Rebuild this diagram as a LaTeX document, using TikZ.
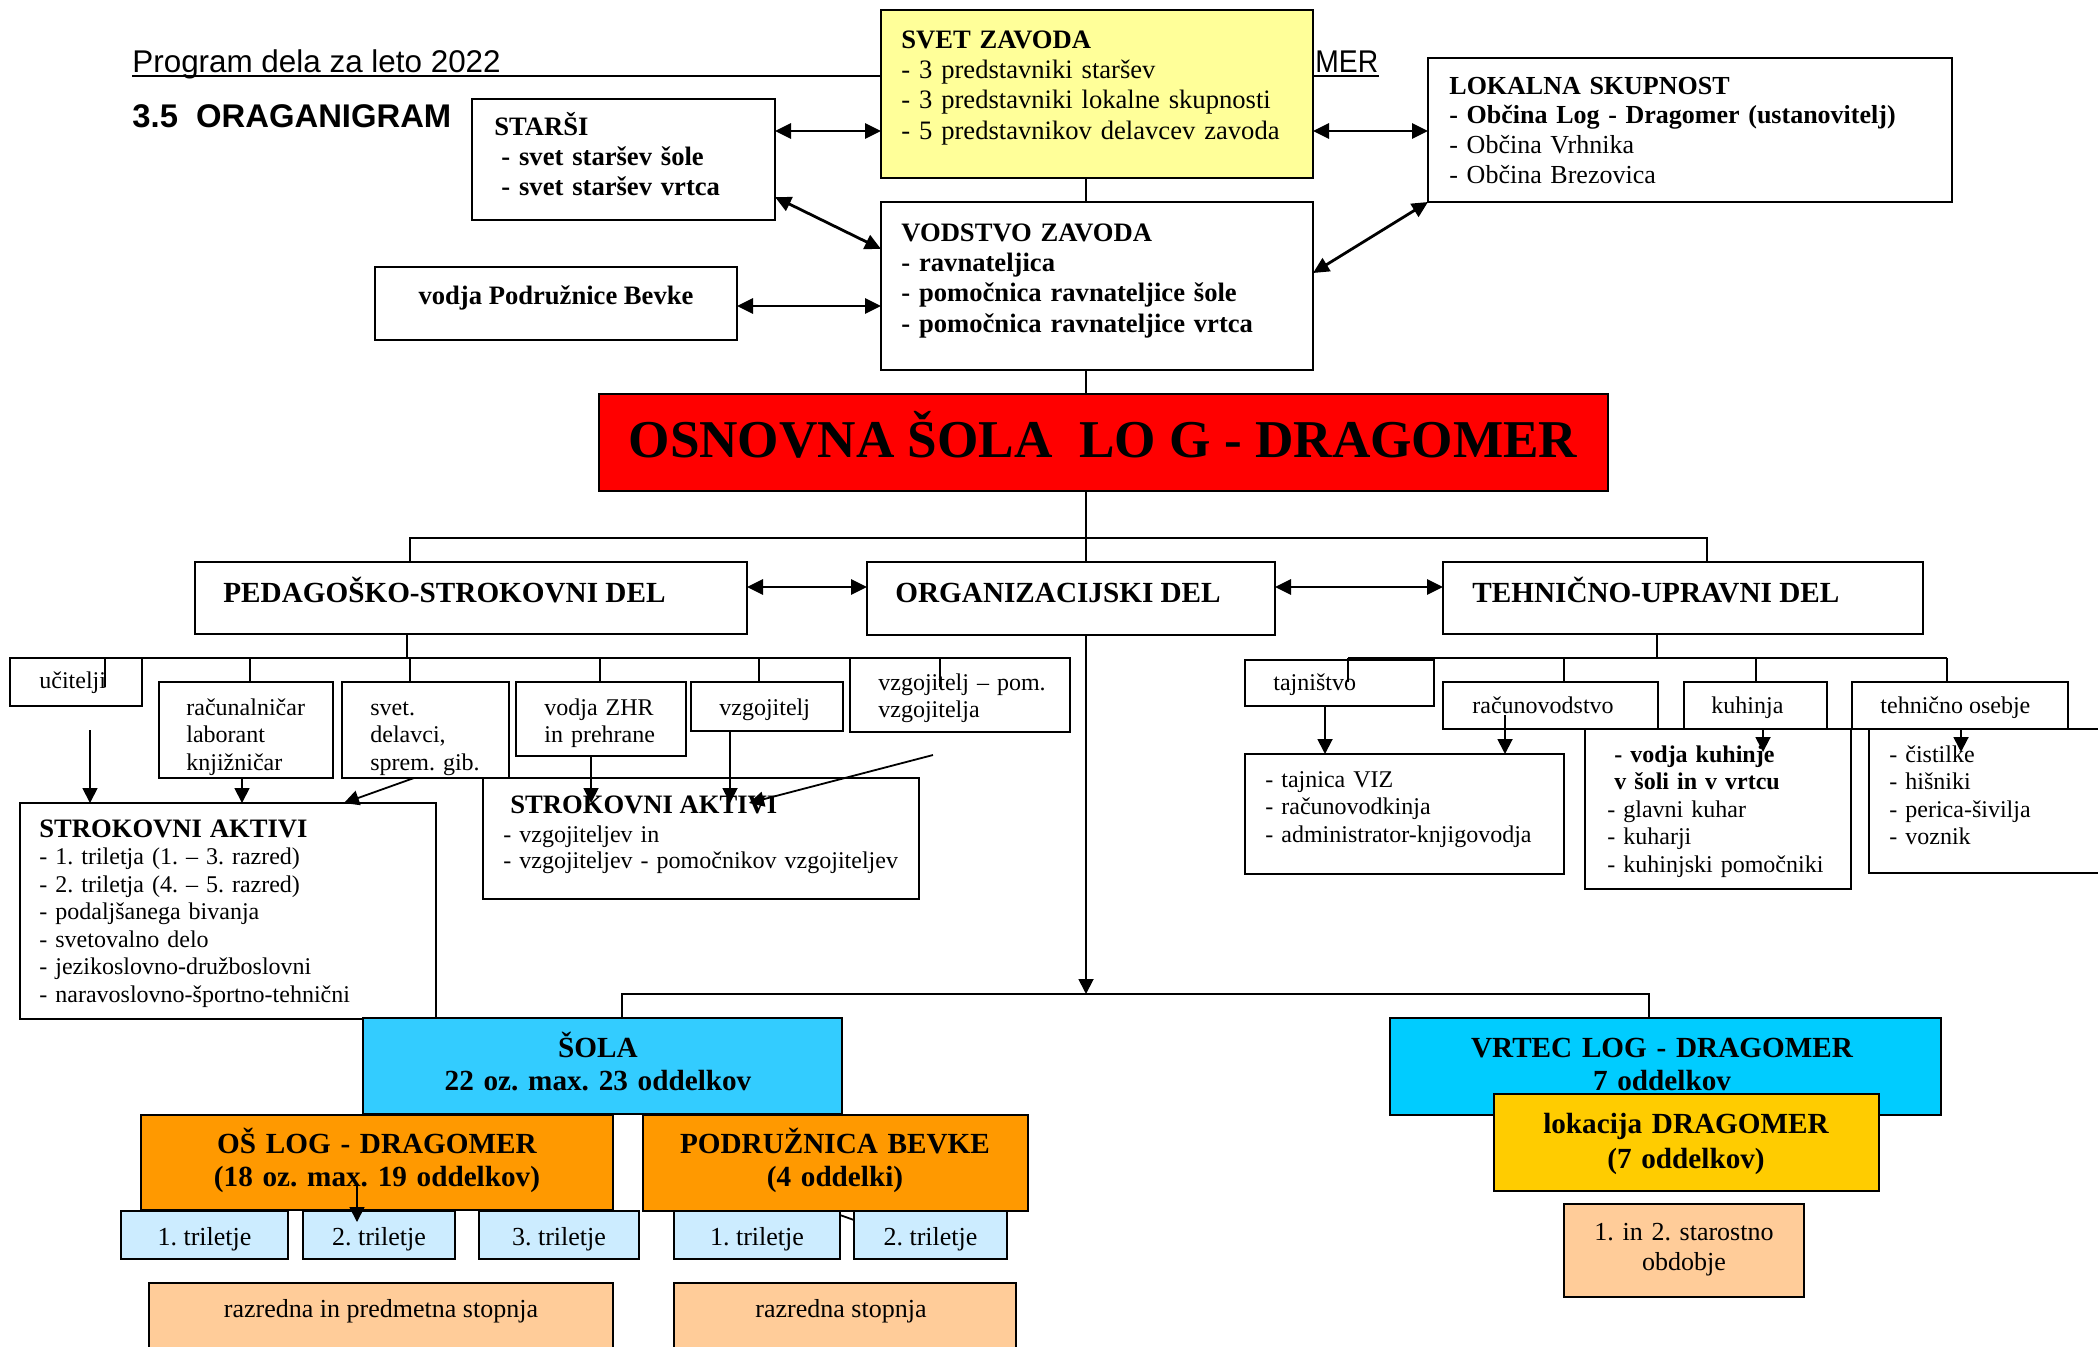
\documentclass[tikz,border=0pt]{standalone}
\usepackage{fontspec}
\setmainfont{Liberation Serif}
\newfontfamily\hdrfont{Liberation Sans}
\usetikzlibrary{arrows.meta,fit}
\frenchspacing
\definecolor{svetY}{HTML}{FFFF99}
\definecolor{redB}{HTML}{FF0000}
\definecolor{solaC}{HTML}{33CCFF}
\definecolor{vrtecC}{HTML}{00CCFF}
\definecolor{orgO}{HTML}{FF9900}
\definecolor{lightB}{HTML}{CCECFF}
\definecolor{peachC}{HTML}{FFCC99}
\definecolor{lokY}{HTML}{FFCC00}
\newcommand\fsm{\fontsize{12}{13.75}\selectfont}
\newcommand\fmd{\fontsize{13.3}{15.2}\selectfont}
\newcommand\flg{\fontsize{14.6}{16.75}\selectfont}
\newcommand\ftr{\fontsize{13}{15}\selectfont}
\newcommand\mybox[4][]{\node[bx,#1,fit={#3 #4}] (#2) {};}
\tikzset{
  bx/.style={draw=black, line width=1.1pt, inner sep=0pt, outer sep=0pt},
  ln/.style={line width=0.8pt},
  dbl/.style={line width=1.4pt, {Triangle[length=8pt,width=7.5pt]}-{Triangle[length=8pt,width=7.5pt]}},
  arr/.style={line width=0.9pt, -{Triangle[length=7.5pt,width=7.5pt]}},
  tl/.style={anchor=base west, inner sep=0pt, align=left, text width=#1},
  tl/.default=240pt,
  tc/.style={anchor=base, inner sep=0pt, align=center, text width=#1},
  tc/.default=230pt,
  tone/.style={anchor=base west, inner sep=0pt},
  tmid/.style={anchor=base, inner sep=0pt},
}
\begin{document}
\begin{tikzpicture}[x=0.5pt,y=-0.5pt]
\useasboundingbox (0,0) rectangle (2098,1346);
% header
\node[tone, font=\hdrfont\fontsize{15.7}{19}\selectfont] (hdr) at (132,72) {Program dela za leto 2022};
\node[tone, font=\hdrfont\fontsize{15.7}{19}\selectfont] (hdrm) at (1315,72) {\scalebox{0.9}[1]{MER}};
\draw[line width=0.9pt] ([yshift=-2pt]hdr.base west) -- ([yshift=-2pt]hdrm.base east);
\node[tone, font=\hdrfont\bfseries\fontsize{16.4}{19}\selectfont] (ttl) at (132,127) {3.5\ \ ORAGANIGRAM};

% top boxes
\mybox{starsi}{(472,99)}{(775,220)}
\node[tl, font=\fmd\bfseries] (starsit) at (494,135) {STARŠI\\\hspace*{3.5pt}- svet staršev šole\\\hspace*{3.5pt}- svet staršev vrtca};
\mybox[fill=svetY]{svet}{(881,10)}{(1313,178)}
\node[tl, font=\fmd] (svett) at (901,48) {\textbf{SVET ZAVODA}\\- 3 predstavniki staršev\\- 3 predstavniki lokalne skupnosti\\- 5 predstavnikov delavcev zavoda};
\mybox{vodstvo}{(881,202)}{(1313,370)}
\node[tl, font=\fmd\bfseries] (vodstvot) at (901,241) {VODSTVO ZAVODA\\- ravnateljica\\- pomočnica ravnateljice šole\\- pomočnica ravnateljice vrtca};
\mybox{bevke}{(375,267)}{(737,340)}
\node[tmid, font=\fmd\bfseries] (bevket) at (556,304) {vodja Podružnice Bevke};
\mybox{lokalna}{(1428,58)}{(1952,202)}
\node[tl=260pt, font=\fontsize{13}{14.85}\selectfont] (lokalnat) at (1449,94) {\textbf{LOKALNA SKUPNOST}\\\textbf{- Občina Log - Dragomer (ustanovitelj)}\\- Občina Vrhnika\\- Občina Brezovica};

\draw[dbl] (starsi.east |- 0,131) -- (svet.west |- 0,131);
\draw[dbl] (starsi.east |- 0,197) -- (vodstvo.west |- 0,249);
\draw[dbl] (bevke.east |- 0,306) -- (vodstvo.west |- 0,306);
\draw[dbl] (svet.east |- 0,131) -- (lokalna.west |- 0,131);
\draw[dbl] (vodstvo.east |- 0,273) -- (lokalna.south west);

% main
\mybox[fill=redB]{red}{(599,394)}{(1608,491)}
\node[tmid, font=\bfseries\fontsize{26.6}{30}\selectfont] (redt) at (1103,457) {OSNOVNA ŠOLA\ \ LO G - DRAGOMER};
\draw[ln] (svet.south -| 1086,0) -- (vodstvo.north -| 1086,0);
\draw[ln] (vodstvo.south -| 1086,0) -- (red.north -| 1086,0);

\mybox{ped}{(195,562)}{(747,634)}
\node[tone, font=\flg\bfseries] (pedt) at (223,602) {PEDAGOŠKO-STROKOVNI DEL};
\mybox{org}{(867,562)}{(1275,635)}
\node[tone, font=\flg\bfseries] (orgt) at (895,602) {ORGANIZACIJSKI DEL};
\mybox{teh}{(1443,562)}{(1923,634)}
\node[tone, font=\flg\bfseries] (teht) at (1472,602) {TEHNIČNO-UPRAVNI DEL};
\draw[ln] (red.south -| 1086,0) -- (org.north -| 1086,0);
\draw[ln] (ped.north -| 410,0) -- (410,538) -- (1707,538) -- (teh.north -| 1707,0);
\draw[dbl] (ped.east |- 0,587) -- (org.west |- 0,587);
\draw[dbl] (org.east |- 0,587) -- (teh.west |- 0,587);

% left branch
\mybox{uci}{(10,658)}{(142,706)}
\node[tone, font=\fsm] (ucit) at (39,688) {učitelji};
\mybox{rac}{(159,682)}{(333,778)}
\mybox{svd}{(342,682)}{(509,778)}
\mybox{zhr}{(516,682)}{(686,756)}
\node[tl=80pt, font=\fsm] (zhrt) at (544,715) {vodja ZHR\\in prehrane};
\mybox{vzg}{(691,682)}{(843,731)}
\node[tone, font=\fsm] (vzgt) at (719,715) {vzgojitelj};
\mybox{pom}{(850,658)}{(1070,732)}
\node[tl=100pt, font=\fsm] (pomt) at (878,690) {vzgojitelj – pom.\\vzgojitelja};
\begin{scope}
\clip (rac.south west) rectangle (svd.north east);
\node[tl=80pt, font=\fsm] (ract) at (186,715) {računalničar\\laborant\\knjižničar};
\node[tl=80pt, font=\fsm] (svdt) at (370,715) {svet.\\delavci,\\sprem. gib.};
\end{scope}
\coordinate (lb1) at (105,658);
\coordinate (lb2) at (940,658);
\draw[ln] (ped.south -| 407,0) -- (407,658);
\draw[ln] (lb1) -- (lb2);
\draw[ln] (lb1) -- (105,687);
\draw[ln] (rac.north -| 250,0) -- (250,658);
\draw[ln] (svd.north -| 410,0) -- (410,658);
\draw[ln] (zhr.north -| 600,0) -- (600,658);
\draw[ln] (vzg.north -| 759,0) -- (759,658);
\draw[ln] (lb2) -- (940,687);

\mybox{sa1}{(20,803)}{(436,1019)}
\node[tl, font=\fsm] (sa1t) at (39,837) {\textbf{\fontsize{13.3}{13.75}\selectfont STROKOVNI AKTIVI}\\- 1. triletja (1. – 3. razred)\\- 2. triletja (4. – 5. razred)\\- podaljšanega bivanja\\- svetovalno delo\\- jezikoslovno-družboslovni\\- naravoslovno-športno-tehnični};
\mybox{sa2}{(483,778)}{(919,899)}
\node[tone, font=\fontsize{13.3}{15}\selectfont\bfseries] (sa2h) at (510,813) {STROKOVNI AKTIVI};
\node[tl, font=\fontsize{12}{13}\selectfont] (sa2t) at (503,842) {- vzgojiteljev in\\- vzgojiteljev - pomočnikov vzgojiteljev};

\coordinate (ua) at (90,730);
\draw[arr] (ua) -- (sa1.north -| ua);
\draw[arr] (rac.south -| 242,0) -- (sa1.north -| 242,0);
\draw[arr] (svd.south -| 414,0) -- (sa1.north -| 344,0);
\draw[arr] (zhr.south -| 591,0) -- (591,803);
\draw[arr] (vzg.south -| 730,0) -- (730,803);
\coordinate (pa) at (933,755);
\draw[arr] (pa) -- (749,803);

% right branch
\mybox{tajn}{(1245,660)}{(1434,706)}
\node[tone, font=\fsm] (tajnt) at (1273,690) {tajništvo};
\mybox{racv}{(1443,682)}{(1658,729)}
\node[tone, font=\fsm] (racvt) at (1472,713) {računovodstvo};
\mybox{kuh}{(1684,682)}{(1827,729)}
\node[tone, font=\fsm] (kuht) at (1711,713) {kuhinja};
\mybox{teho}{(1852,682)}{(2068,729)}
\node[tone, font=\fsm] (tehot) at (1880,713) {tehnično osebje};
\coordinate (rb1) at (1348,658);
\coordinate (rb2) at (1947,658);
\draw[ln] (teh.south -| 1657,0) -- (1657,658);
\draw[ln] (rb1) -- (rb2);
\draw[ln] (rb1) -- (1348,682);
\draw[ln] (racv.north -| 1564,0) -- (1564,658);
\draw[ln] (kuh.north -| 1756,0) -- (1756,658);
\draw[ln] (teho.north -| 1947,0) -- (rb2);

\mybox{tajnica}{(1245,754)}{(1564,874)}
\node[tl, font=\fsm] (tajnicat) at (1265,787) {- tajnica VIZ\\- računovodkinja\\- administrator-knjigovodja};
\mybox{kuhd}{(1585,729)}{(1851,889)}
\node[tl, font=\fsm] (kuhdt) at (1607,762) {\hspace*{3.5pt}\textbf{- vodja kuhinje}\\\hspace*{3.5pt}\textbf{v šoli in v vrtcu}\\- glavni kuhar\\- kuharji\\- kuhinjski pomočniki};
\mybox{tehd}{(1869,729)}{(2120,873)}
\node[tl, font=\fsm] (tehdt) at (1889,762) {- čistilke\\- hišniki\\- perica-šivilja\\- voznik};

\draw[arr] (tajn.south -| 1325,0) -- (tajnica.north -| 1325,0);
\coordinate (ra) at (1505,715);
\draw[arr] (ra) -- (tajnica.north -| ra);
\draw[arr] (kuh.south -| 1763,0) -- (1763,752);
\draw[arr] (teho.south -| 1961,0) -- (1961,752);

% bottom
\mybox[fill=solaC]{sola}{(363,1018)}{(842,1114)}
\node[tc=230pt, font=\flg\bfseries] (solat) at (598,1057) {ŠOLA\\22 oz. max. 23 oddelkov};
\mybox[fill=vrtecC]{vrtec}{(1390,1018)}{(1941,1115)}
\node[tc=260pt, font=\flg\bfseries] (vrtect) at (1662,1057) {VRTEC LOG - DRAGOMER\\7 oddelkov};
\draw[arr] (org.south -| 1086,0) -- (1086,994);
\draw[ln] (sola.north -| 622,0) -- (622,994) -- (1649,994) -- (vrtec.north -| 1649,0);

\mybox[fill=orgO]{oslog}{(141,1115)}{(613,1210)}
\node[tc=230pt, font=\flg\bfseries] (oslogt) at (377,1153) {OŠ LOG - DRAGOMER\\(18 oz. max. 19 oddelkov)};
\mybox[fill=orgO]{podr}{(643,1115)}{(1028,1211)}
\node[tc=190pt, font=\flg\bfseries] (podrt) at (835,1153) {PODRUŽNICA BEVKE\\(4 oddelki)};

\mybox[fill=lightB]{tri1}{(121,1211)}{(288,1259)}
\mybox[fill=lightB]{tri2}{(303,1211)}{(455,1259)}
\mybox[fill=lightB]{tri3}{(479,1211)}{(639,1259)}
\mybox[fill=lightB]{tri4}{(674,1211)}{(840,1259)}
\mybox[fill=lightB]{tri5}{(854,1211)}{(1007,1259)}
\node[tmid, font=\ftr] (tri1t) at (tri1.center |- 0,1245) {1. triletje};
\node[tmid, font=\ftr] (tri2t) at (tri2.center |- 0,1245) {2. triletje};
\node[tmid, font=\ftr] (tri3t) at (tri3.center |- 0,1245) {3. triletje};
\node[tmid, font=\ftr] (tri4t) at (tri4.center |- 0,1245) {1. triletje};
\node[tmid, font=\ftr] (tri5t) at (tri5.center |- 0,1245) {2. triletje};
\coordinate (oa) at (357,1185);
\draw[arr] (oa) -- (357,1222);
\draw[line width=0.9pt] ([yshift=-2pt]tri4.north east) -- ([yshift=-4.5pt]tri5.north west);

\mybox[fill=peachC]{raz1}{(149,1283)}{(613,1370)}
\node[tmid, font=\ftr] (raz1t) at (381,1317) {razredna in predmetna stopnja};
\mybox[fill=peachC]{raz2}{(674,1283)}{(1016,1370)}
\node[tmid, font=\ftr] (raz2t) at (841,1317) {razredna stopnja};

\mybox[fill=lokY]{lok}{(1494,1094)}{(1879,1191)}
\node[tc=190pt, font=\fontsize{14.6}{17.5}\selectfont\bfseries] (lokt) at (1686,1133) {lokacija DRAGOMER\\(7 oddelkov)};
\mybox[fill=peachC]{star}{(1564,1204)}{(1804,1297)}
\node[tc=120pt, font=\fontsize{13}{15}\selectfont] (start) at (1684,1240) {1. in 2. starostno\\obdobje};
\end{tikzpicture}
\end{document}
